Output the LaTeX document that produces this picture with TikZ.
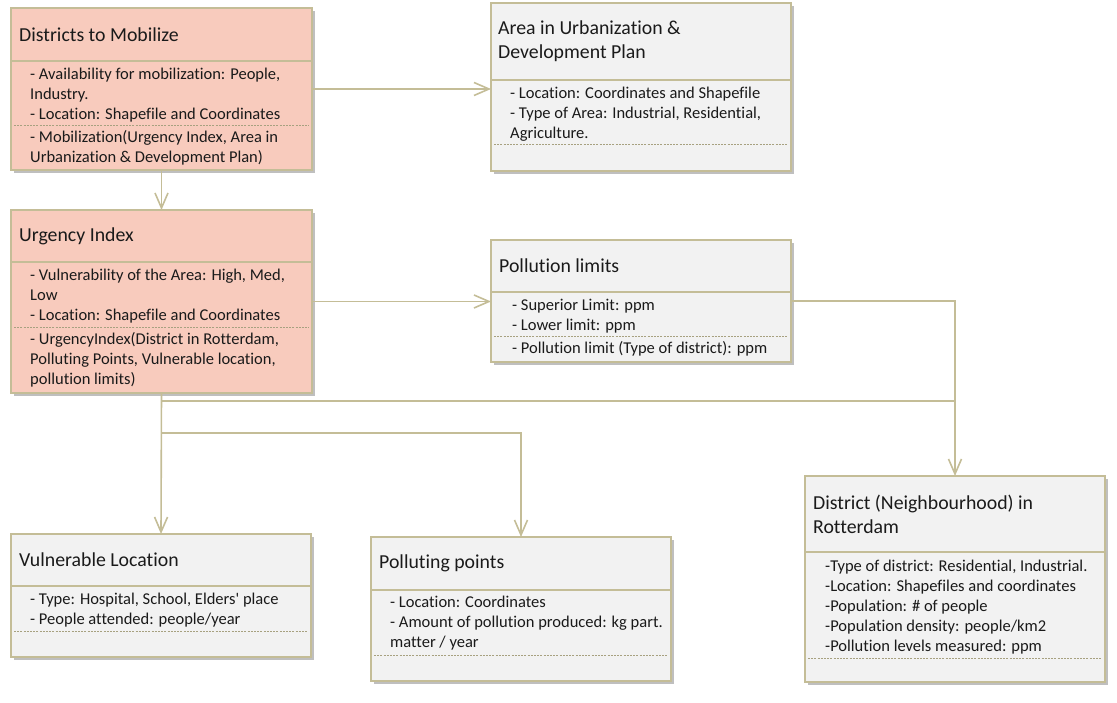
\documentclass[tikz,border=0pt]{standalone}
\usepackage{fontspec}
\setmainfont{Carlito}[Ligatures={TeX,NoCommon}]
\usetikzlibrary{calc}
\usetikzlibrary{arrows.meta}
\usetikzlibrary{shadows}
\definecolor{tan}{HTML}{C4BD97}
\definecolor{pinkfill}{HTML}{F8CBBD}
\definecolor{greyfill}{HTML}{F2F2F2}
\definecolor{ink}{HTML}{1A1A1A}
\tikzset{
  classbox/.style={draw=tan, line width=2pt, rectangle, anchor=north west, outer sep=0pt, inner sep=0pt,
    drop shadow={shadow xshift=3pt, shadow yshift=-3pt, opacity=.25, fill=black}},
  pinkbox/.style={classbox, fill=pinkfill},
  greybox/.style={classbox, fill=greyfill},
  titletext/.style={anchor=west, align=left, inner sep=0pt, text=ink, font=\fontsize{19.8}{24}\selectfont},
  bodytext/.style={anchor=north west, align=left, inner sep=0pt, text=ink, font=\fontsize{16.5}{20}\selectfont},
  divider/.style={draw=tan, line width=1.5pt},
  dotline/.style={draw=tan!85!black, line width=1pt, dash pattern=on 2pt off 1.2pt},
  link/.style={draw=tan, line width=1.6pt}
}

\begin{document}
\begin{tikzpicture}[x=1pt, y=-1pt, >={Straight Barb[length=15pt, width=13pt]}]
\useasboundingbox (0,0) rectangle (1117,703);

\node[pinkbox, minimum width=301pt, minimum height=162pt] (mob) at (11,8) {};
\node[greybox, minimum width=300pt, minimum height=168pt] (area) at (491,3) {};
\node[pinkbox, minimum width=301pt, minimum height=183pt] (urg) at (11,210) {};
\node[greybox, minimum width=300pt, minimum height=122pt] (lim) at (491,240) {};
\node[greybox, minimum width=300pt, minimum height=123pt] (vul) at (11,534) {};
\node[greybox, minimum width=300pt, minimum height=144pt] (poll) at (371,537) {};
\node[greybox, minimum width=300pt, minimum height=206pt] (dist) at (805,476) {};

\foreach \n/\a/\b in {mob/53/118, area/77/142, urg/52/118, lim/52/97, vul/52/97, poll/53/118, dist/76/182} {
  \draw[divider] ([yshift=-\a pt]\n.north west) -- ([yshift=-\a pt]\n.north east);
  \draw[dotline] ([xshift=3pt, yshift=-\b pt]\n.north west) -- ([xshift=-3pt, yshift=-\b pt]\n.north east);
}

\node[titletext] (mob-t) at ([xshift=8pt, yshift=-26.5pt]mob.north west) {Districts to Mobilize};
\node[bodytext] (mob-a) at ([xshift=19pt, yshift=-60pt]mob.north west) {- Availability for mobilization: People,\\Industry.\\- Location: Shapefile and Coordinates};
\node[bodytext] (mob-b) at ([xshift=19pt, yshift=-122pt]mob.north west) {- Mobilization(Urgency Index, Area in\\Urbanization \& Development Plan)};

\node[titletext] (area-t) at ([xshift=7pt, yshift=-38.5pt]area.north west) {Area in Urbanization \&\\Development Plan};
\node[bodytext] (area-a) at ([xshift=19pt, yshift=-84pt]area.north west) {- Location: Coordinates and Shapefile\\- Type of Area: Industrial, Residential,\\Agriculture.};

\node[titletext] (urg-t) at ([xshift=8pt, yshift=-26pt]urg.north west) {Urgency Index};
\node[bodytext] (urg-a) at ([xshift=19pt, yshift=-59pt]urg.north west) {- Vulnerability of the Area: High, Med,\\Low\\- Location: Shapefile and Coordinates};
\node[bodytext] (urg-b) at ([xshift=19pt, yshift=-122pt]urg.north west) {- UrgencyIndex(District in Rotterdam,\\Polluting Points, Vulnerable location,\\pollution limits)};

\node[titletext] (lim-t) at ([xshift=8pt, yshift=-26pt]lim.north west) {Pollution limits};
\node[bodytext] (lim-a) at ([xshift=21pt, yshift=-59pt]lim.north west) {- Superior Limit: ppm\\- Lower limit: ppm};
\node[bodytext] (lim-b) at ([xshift=21pt, yshift=-101pt]lim.north west) {- Pollution limit (Type of district): ppm};

\node[titletext] (vul-t) at ([xshift=8pt, yshift=-26pt]vul.north west) {Vulnerable Location};
\node[bodytext] (vul-a) at ([xshift=19pt, yshift=-59pt]vul.north west) {- Type: Hospital, School, Elders\textquotesingle{} place\\- People attended: people/year};

\node[titletext] (poll-t) at ([xshift=8pt, yshift=-26.5pt]poll.north west) {Polluting points};
\node[bodytext] (poll-a) at ([xshift=19pt, yshift=-59pt]poll.north west) {- Location: Coordinates\\- Amount of pollution produced: kg part.\\matter / year};

\node[titletext] (dist-t) at ([xshift=8pt, yshift=-38pt]dist.north west) {District (Neighbourhood) in\\Rotterdam};
\node[bodytext] (dist-a) at ([xshift=20pt, yshift=-84pt]dist.north west) {-Type of district: Residential, Industrial.\\-Location: Shapefiles and coordinates\\-Population: \# of people\\-Population density: people/km2\\-Pollution levels measured: ppm};

\draw[link, ->] (mob.east) -- (mob.east -| area.west);
\draw[link, ->] (mob.south) -- (urg.north);
\draw[link, ->] (urg.east) -- (urg.east -| lim.west);
\draw[link, ->] (lim.east) -| (dist.north);
\draw[link, ->] (urg.south) -- (vul.north);
\coordinate (j1) at ([yshift=-8pt]urg.south);
\coordinate (j2) at ([yshift=-40pt]urg.south);
\draw[link] (j1) -- (j1 -| dist.north);
\draw[link, ->] (j2) -| (poll.north);
\end{tikzpicture}
\end{document}
